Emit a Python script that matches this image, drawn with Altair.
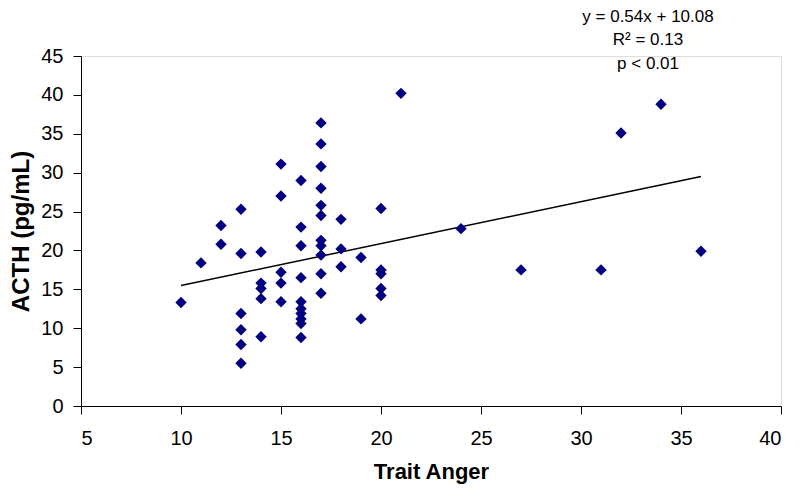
import altair as alt
import pandas as pd

# Trait Anger scores (x) and ACTH values (y)
trait_anger = [
    10, 11, 12, 12,
    13, 13, 13, 13, 13, 13,
    14, 14, 14, 14, 14,
    15, 15, 15, 15, 15,
    16, 16, 16, 16, 16, 16, 16, 16, 16, 16,
    17, 17, 17, 17, 17, 17, 17, 17, 17, 17, 17,
    18, 18, 18,
    19, 19,
    20, 20, 20, 20, 20,
    21, 24, 27, 31, 32, 34, 36,
]
acth = [
    13.3, 18.4, 23.2, 20.8,
    25.3, 19.6, 11.9, 9.8, 7.9, 5.5,
    19.8, 15.8, 15.1, 13.8, 8.9,
    31.1, 27.0, 17.2, 15.8, 13.4,
    29.0, 23.0, 20.6, 16.5, 13.4, 12.5, 11.9, 11.2, 10.6, 8.8,
    36.4, 33.7, 30.8, 28.0, 25.8, 24.5, 21.3, 20.6, 19.4, 17.0, 14.5,
    24.0, 20.2, 17.9,
    19.1, 11.2,
    25.4, 17.5, 17.0, 15.1, 14.2,
    40.2, 22.8, 17.5, 17.5, 35.1, 38.8, 19.9,
]

slope = 0.54
intercept = 10.08
trend_x = [10, 36]
annotation_lines = ["y = 0.54x + 10.08", "R² = 0.13", "p < 0.01"]

x_ticks = [5, 10, 15, 20, 25, 30, 35, 40]
y_ticks = [0, 5, 10, 15, 20, 25, 30, 35, 40, 45]

pts = pd.DataFrame({"x": trait_anger, "y": acth})
trend = pd.DataFrame({"x": trend_x, "y": [slope * v + intercept for v in trend_x]})

FONT = "Liberation Sans"

xscale = alt.Scale(domain=[5, 40], nice=False, zero=False)
yscale = alt.Scale(domain=[0, 45], nice=False)

xaxis = alt.Axis(
    values=x_ticks, grid=False, title="Trait Anger", domainColor="black",
    tickColor="black", tickSize=8, labelPadding=14, labelFontSize=20,
    labelColor="black", labelFont=FONT, titleFont=FONT, titleFontSize=22,
    titleFontWeight="bold", titleColor="black", titlePadding=13,
)
yaxis = alt.Axis(
    values=y_ticks, grid=False, title="ACTH (pg/mL)", domainColor="black",
    tickColor="black", tickSize=8, labelPadding=10, labelFontSize=20,
    labelColor="black", labelFont=FONT, titleFont=FONT, titleFontSize=24,
    titleFontWeight="bold", titleColor="black", titlePadding=7,
)

points = alt.Chart(pts).mark_point(
    shape="diamond", filled=True, color="#000080", size=130, opacity=1
).encode(
    x=alt.X("x:Q", scale=xscale, axis=xaxis),
    y=alt.Y("y:Q", scale=yscale, axis=yaxis),
)

line = alt.Chart(trend).mark_line(color="black", strokeWidth=1.5).encode(
    x=alt.X("x:Q", scale=xscale, axis=xaxis),
    y=alt.Y("y:Q", scale=yscale, axis=yaxis),
)

text_y = [-39, -16, 8]
texts = [
    alt.Chart(pd.DataFrame({"t": [t]})).mark_text(
        font=FONT, fontSize=17, color="black", align="center", baseline="middle"
    ).encode(x=alt.value(567), y=alt.value(yy), text="t:N")
    for t, yy in zip(annotation_lines, text_y)
]

chart = (
    alt.layer(line, points, *texts)
    .properties(
        width=700, height=350,
        autosize=alt.AutoSizeParams(type="none"),
        padding={"left": 73, "top": 48, "right": 11, "bottom": 80},
    )
    .configure_view(stroke=None)
    .configure(background="white")
)

chart.save("out.html", embed_options={"renderer": "svg", "actions": False})
